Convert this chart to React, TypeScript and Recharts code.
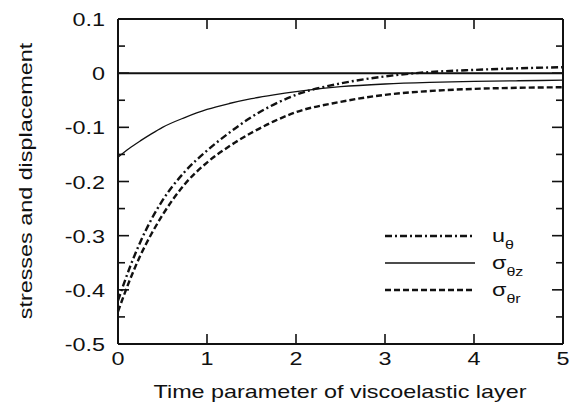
import { LineChart, Line, XAxis, YAxis, ReferenceLine } from 'recharts'

// values
const time = [0, 0.125, 0.25, 0.375, 0.5, 0.75, 1, 1.25, 1.5, 1.75, 2, 2.5, 3, 3.5, 4, 4.5, 5]
const uTheta = [-0.42, -0.362, -0.312, -0.27, -0.235, -0.182, -0.143, -0.11, -0.081, -0.058, -0.04, -0.019, -0.006, 0.002, 0.006, 0.009, 0.011]
const sigmaThetaZ = [-0.155, -0.139, -0.125, -0.112, -0.1, -0.082, -0.067, -0.056, -0.047, -0.04, -0.034, -0.025, -0.02, -0.017, -0.015, -0.014, -0.013]
const sigmaThetaR = [-0.44, -0.385, -0.337, -0.297, -0.262, -0.205, -0.165, -0.135, -0.11, -0.089, -0.072, -0.053, -0.04, -0.033, -0.029, -0.027, -0.026]

const xTicks = [0, 1, 2, 3, 4, 5]
const yMajor = [-0.5, -0.4, -0.3, -0.2, -0.1, 0, 0.1]
const yMinor = [-0.45, -0.35, -0.25, -0.15, -0.05, 0.05]

const data = time.map((t, i) => ({ t, u: uTheta[i], sz: sigmaThetaZ[i], sr: sigmaThetaR[i] }))

const series = [
  { key: 'u', main: 'u', sub: 'θ', dash: '7 3 2 3', width: 2.4 },
  { key: 'sz', main: 'σ', sub: 'θz', dash: undefined, width: 1.3 },
  { key: 'sr', main: 'σ', sub: 'θr', dash: '6 3', width: 2.4 },
]

const X0 = 0
const X1 = 5
const Y0 = -0.5
const Y1 = 0.1

const FONT = '"Liberation Sans", Arial, sans-serif'
const INK = '#111'
const SX = 1.23 // the reference lettering is stretched sideways

// inward tick lengths, in data units (plot is 445 x 325 px)
const PX_X = (X1 - X0) / 445
const PX_Y = (Y1 - Y0) / 325
const majorLen = 11 * PX_X
const minorLen = 7 * PX_X
const xTickLen = 10 * PX_Y

const fmt = (v: number) => (Math.abs(v) < 1e-9 ? '0' : v.toFixed(1))

const Txt = ({ x, y, anchor = 'start', size = 19, rotate = 0, children }: any) => (
  <text
    transform={`translate(${x},${y}) rotate(${rotate}) scale(${SX},1)`}
    textAnchor={anchor}
    fontSize={size}
    fontFamily={FONT}
    fill={INK}
  >
    {children}
  </text>
)

const LeftLabel = ({ x, y, payload }: any) => (
  <Txt x={x} y={y + 7} anchor="end">
    {fmt(payload.value)}
  </Txt>
)

const BottomLabel = ({ x, y, payload }: any) => (
  <Txt x={x} y={y + 7} anchor="middle">
    {payload.value}
  </Txt>
)

const frame = { stroke: INK, strokeWidth: 2 }

const tickSegments = [
  ...yMajor.filter((v) => v > Y0 && v < Y1).flatMap((v) => [
    [{ x: X0, y: v }, { x: X0 + majorLen, y: v }],
    [{ x: X1, y: v }, { x: X1 - majorLen, y: v }],
  ]),
  ...yMinor.flatMap((v) => [
    [{ x: X0, y: v }, { x: X0 + minorLen, y: v }],
    [{ x: X1, y: v }, { x: X1 - minorLen, y: v }],
  ]),
  ...xTicks.filter((t) => t > X0 && t < X1).flatMap((t) => [
    [{ x: t, y: Y0 }, { x: t, y: Y0 + xTickLen }],
    [{ x: t, y: Y1 }, { x: t, y: Y1 - xTickLen }],
  ]),
]

export default function App() {
  return (
    <div style={{ position: 'relative', width: 582, height: 418 }}>
      <style>{'body{margin:0}'}</style>
      <LineChart width={582} height={418} data={data} margin={{ top: 19, right: 19, bottom: 0, left: 0 }}>
        <XAxis
          dataKey="t"
          type="number"
          domain={[X0, X1]}
          ticks={xTicks}
          interval={0}
          height={74}
          tickSize={0}
          tickMargin={14}
          tickLine={false}
          tick={BottomLabel}
          axisLine={frame}
        />
        <YAxis
          yAxisId="left"
          type="number"
          domain={[Y0, Y1]}
          ticks={yMajor}
          interval={0}
          width={118}
          tickSize={0}
          tickMargin={13}
          tickLine={false}
          tick={LeftLabel}
          axisLine={frame}
        />
        <ReferenceLine yAxisId="left" y={Y1} stroke={INK} strokeWidth={2} />
        <ReferenceLine yAxisId="left" x={X1} stroke={INK} strokeWidth={2} />
        {tickSegments.map((seg, i) => (
          <ReferenceLine key={i} yAxisId="left" segment={seg} stroke={INK} strokeWidth={1.6} />
        ))}
        <ReferenceLine yAxisId="left" y={0} stroke={INK} strokeWidth={2} />
        {series.map((s) => (
          <Line
            key={s.key}
            yAxisId="left"
            dataKey={s.key}
            type="monotone"
            stroke={INK}
            strokeWidth={s.width}
            strokeDasharray={s.dash}
            dot={false}
            activeDot={false}
            isAnimationActive={false}
          />
        ))}
      </LineChart>
      <svg width={582} height={418} style={{ position: 'absolute', left: 0, top: 0, pointerEvents: 'none' }}>
        <Txt x={340} y={398} anchor="middle">Time parameter of viscoelastic layer</Txt>
        <Txt x={32} y={181} anchor="middle" rotate={-90}>stresses and displacement</Txt>
        {series.map((s, i) => {
          const y = 236 + 27 * i
          return (
            <g key={s.key}>
              <line x1={385} x2={475} y1={y} y2={y} stroke={INK} strokeWidth={s.width} strokeDasharray={s.dash} />
              <Txt x={492} y={y + 6}>
                {s.main}
                <tspan fontSize={13} dy={7}>{s.sub}</tspan>
              </Txt>
            </g>
          )
        })}
      </svg>
    </div>
  )
}
